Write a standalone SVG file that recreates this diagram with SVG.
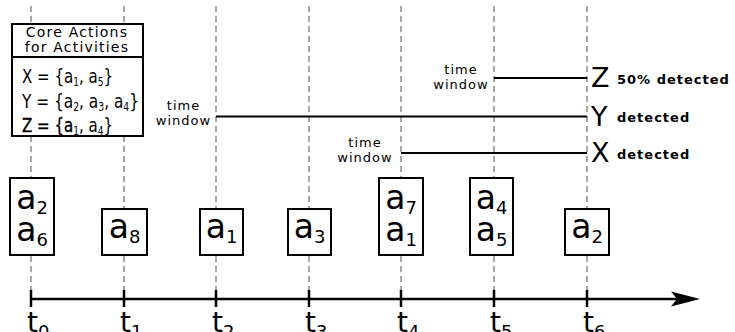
<svg xmlns="http://www.w3.org/2000/svg" width="735" height="332" viewBox="0 0 735 332">
  <style>
    .grid { stroke: #8a8a8a; stroke-width: 1.5; stroke-dasharray: 6 4; fill: none; }
    .box { fill: #fff; stroke: #000; stroke-width: 2; }
    .win { stroke: #000; stroke-width: 2; fill: none; }
    .axis { stroke: #000; stroke-width: 2.5; fill: none; }
    .act { font-family: "DejaVu Sans", "Liberation Sans", sans-serif; font-size: 33px; fill: #000; text-anchor: middle; }
    .act .s { font-size: 18px; }
    .tl { font-family: "DejaVu Sans", "Liberation Sans", sans-serif; font-size: 28px; fill: #000; }
    .tl .s { font-size: 18px; }
    .small { font-family: "DejaVu Sans", "Liberation Sans", sans-serif; font-size: 13px; letter-spacing: 1px; fill: #000; text-anchor: middle; }
    .title { font-family: "DejaVu Sans", "Liberation Sans", sans-serif; font-size: 14px; letter-spacing: 1.2px; fill: #000; text-anchor: middle; }
    .set { font-family: "DejaVu Sans Condensed", "DejaVu Sans", sans-serif; font-size: 20px; fill: #000; }
    .set .s { font-size: 12px; }
    .big { font-family: "DejaVu Sans", "Liberation Sans", sans-serif; font-size: 27px; fill: #000; }
    .det { font-family: "DejaVu Sans", "Liberation Sans", sans-serif; font-size: 13px; font-weight: bold; letter-spacing: 1px; fill: #000; }
  </style>

  <!-- time grid -->
  <g id="grid">
    <line class="grid" x1="31" y1="6" x2="31" y2="290"/>
    <line class="grid" x1="124" y1="6" x2="124" y2="290"/>
    <line class="grid" x1="216" y1="6" x2="216" y2="290"/>
    <line class="grid" x1="309" y1="6" x2="309" y2="290"/>
    <line class="grid" x1="401" y1="6" x2="401" y2="290"/>
    <line class="grid" x1="494" y1="6" x2="494" y2="290"/>
    <line class="grid" x1="587" y1="6" x2="587" y2="290"/>
  </g>

  <!-- legend of core actions -->
  <g id="legend">
    <rect class="box" x="12" y="24" width="131" height="112"/>
    <line class="win" x1="12" y1="57" x2="143" y2="57"/>
    <text class="title" x="77" y="37">Core Actions</text>
    <text class="title" x="77" y="52">for Activities</text>
    <text class="set" x="22" y="83" textLength="91" lengthAdjust="spacingAndGlyphs">X = {a<tspan class="s" dy="3">1</tspan><tspan dy="-3">, a</tspan><tspan class="s" dy="3">5</tspan><tspan dy="-3">}</tspan></text>
    <text class="set" x="22" y="108" textLength="117" lengthAdjust="spacingAndGlyphs">Y = {a<tspan class="s" dy="3">2</tspan><tspan dy="-3">, a</tspan><tspan class="s" dy="3">3</tspan><tspan dy="-3">, a</tspan><tspan class="s" dy="3">4</tspan><tspan dy="-3">}</tspan></text>
    <text class="set" x="22" y="132" textLength="91" lengthAdjust="spacingAndGlyphs" stroke="#000" stroke-width="0.4">Z = {a<tspan class="s" dy="3" stroke="none">1</tspan><tspan dy="-3" stroke="none">, a</tspan><tspan class="s" dy="3" stroke="none">4</tspan><tspan dy="-3" stroke="none">}</tspan></text>
  </g>

  <!-- detection time windows -->
  <g id="connectors">
    <line class="win" x1="494" y1="78" x2="587" y2="78"/>
    <line class="win" x1="216" y1="116.5" x2="587" y2="116.5"/>
    <line class="win" x1="401" y1="153" x2="587" y2="153"/>
  </g>

  <g id="window-z">
    <text class="small" x="461" y="74">time</text>
    <text class="small" x="461" y="89">window</text>
  </g>
  <g id="window-y">
    <text class="small" x="183.5" y="110">time</text>
    <text class="small" x="183.5" y="125">window</text>
  </g>
  <g id="window-x">
    <text class="small" x="365" y="147">time</text>
    <text class="small" x="365" y="162">window</text>
  </g>

  <g id="result-z">
    <text class="big" x="591" y="87">Z</text>
    <text class="det" x="617" y="84">50% detected</text>
  </g>
  <g id="result-y">
    <text class="big" x="591" y="125.5">Y</text>
    <text class="det" x="617" y="122">detected</text>
  </g>
  <g id="result-x">
    <text class="big" x="591" y="162">X</text>
    <text class="det" x="617" y="158.5">detected</text>
  </g>

  <!-- observed actions -->
  <g id="obs-t0">
    <rect class="box" x="10" y="178" width="44" height="77"/>
    <text class="act" x="32" y="209">a<tspan class="s" dy="5">2</tspan></text>
    <text class="act" x="32" y="241">a<tspan class="s" dy="5">6</tspan></text>
  </g>
  <g id="obs-t1">
    <rect class="box" x="102" y="209" width="45" height="46"/>
    <text class="act" x="124.5" y="238">a<tspan class="s" dy="5">8</tspan></text>
  </g>
  <g id="obs-t2">
    <rect class="box" x="200" y="209" width="43" height="46"/>
    <text class="act" x="221.5" y="238">a<tspan class="s" dy="5">1</tspan></text>
  </g>
  <g id="obs-t3">
    <rect class="box" x="288" y="209" width="43" height="46"/>
    <text class="act" x="309.5" y="238">a<tspan class="s" dy="5">3</tspan></text>
  </g>
  <g id="obs-t4">
    <rect class="box" x="379" y="178" width="44" height="77"/>
    <text class="act" x="401" y="209">a<tspan class="s" dy="5">7</tspan></text>
    <text class="act" x="401" y="241">a<tspan class="s" dy="5">1</tspan></text>
  </g>
  <g id="obs-t5">
    <rect class="box" x="470" y="178" width="43" height="77"/>
    <text class="act" x="491.5" y="209">a<tspan class="s" dy="5">4</tspan></text>
    <text class="act" x="491.5" y="241">a<tspan class="s" dy="5">5</tspan></text>
  </g>
  <g id="obs-t6">
    <rect class="box" x="565" y="209" width="44" height="46"/>
    <text class="act" x="587" y="238">a<tspan class="s" dy="5">2</tspan></text>
  </g>

  <!-- time axis -->
  <g id="axis">
    <line class="axis" x1="31" y1="299" x2="680" y2="299"/>
    <path d="M700,299 L671,291.5 L677,299 L671,306.5 Z" fill="#000"/>
    <line class="axis" x1="31" y1="290" x2="31" y2="307"/>
    <line class="axis" x1="124" y1="290" x2="124" y2="307"/>
    <line class="axis" x1="216" y1="290" x2="216" y2="307"/>
    <line class="axis" x1="309" y1="290" x2="309" y2="307"/>
    <line class="axis" x1="401" y1="290" x2="401" y2="307"/>
    <line class="axis" x1="494" y1="290" x2="494" y2="307"/>
    <line class="axis" x1="587" y1="290" x2="587" y2="307"/>
    <text class="tl" x="27" y="332">t<tspan class="s" dy="6">0</tspan></text>
    <text class="tl" x="120" y="332">t<tspan class="s" dy="6">1</tspan></text>
    <text class="tl" x="212" y="332">t<tspan class="s" dy="6">2</tspan></text>
    <text class="tl" x="305" y="332">t<tspan class="s" dy="6">3</tspan></text>
    <text class="tl" x="397" y="332">t<tspan class="s" dy="6">4</tspan></text>
    <text class="tl" x="490" y="332">t<tspan class="s" dy="6">5</tspan></text>
    <text class="tl" x="583" y="332">t<tspan class="s" dy="6">6</tspan></text>
  </g>
</svg>
